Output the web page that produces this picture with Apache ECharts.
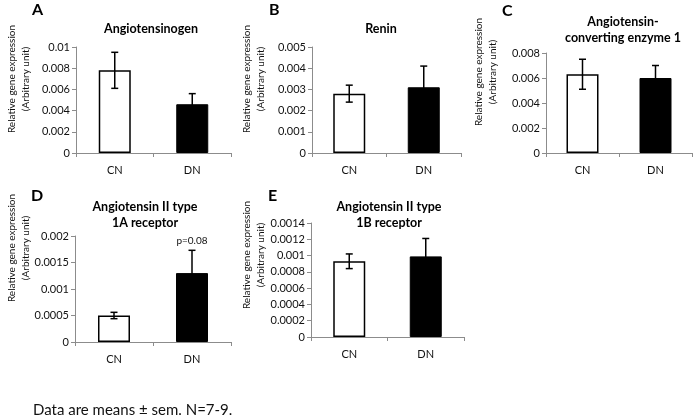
<!DOCTYPE html>
<html>
<head>
<meta charset="utf-8">
<script src="https://cdn.jsdelivr.net/npm/echarts@6/dist/echarts.min.js"></script>
<style>
  html, body { margin: 0; padding: 0; background: #fff; }
  #chart { width: 696px; height: 420px; }
</style>
</head>
<body>
<div id="chart"></div>
<script>
// ---- data ----
const categories = ['CN', 'DN'];

const angiotensinogenMean = [0.0078, 0.0046];
const angiotensinogenSem  = [0.0017, 0.0010];

const reninMean = [0.0028, 0.0031];
const reninSem  = [0.0004, 0.0010];

const aceMean = [0.0063, 0.0060];
const aceSem  = [0.0012, 0.0010];

const at1aMean = [0.00050, 0.00130];
const at1aSem  = [0.00006, 0.00043];

const at1bMean = [0.00093, 0.00099];
const at1bSem  = [0.00009, 0.00022];

const panelLetters = ['A', 'B', 'C', 'D', 'E'];
const panelTitles = [
  'Angiotensinogen',
  'Renin',
  'Angiotensin-\nconverting enzyme 1',
  'Angiotensin II type\n1A receptor',
  'Angiotensin II type\n1B receptor'
];
const yMax      = [0.01, 0.005, 0.008, 0.002, 0.0014];
const yInterval = [0.002, 0.001, 0.002, 0.0005, 0.0002];
const yAxisTitle = 'Relative gene expression\n(Arbitrary unit)';
const annotationText = 'p=0.08';
const footnote = 'Data are means \u00b1 sem. N=7-9.';

// ---- layout ----
const FONT = 'Lato, "Open Sans", sans-serif';
const grids = [
  { left: 76,  top: 47,  width: 155, height: 106 },
  { left: 312, top: 47,  width: 149, height: 106 },
  { left: 546, top: 53,  width: 146, height: 100 },
  { left: 75,  top: 236, width: 156, height: 106 },
  { left: 311, top: 223, width: 153, height: 114 }
];
const letterPos = [[32, 11], [269, 11], [502, 12], [31, 197], [268, 197]];
const titlePos = [[151, 29], [381, 29], [623, 30], [145, 215], [389, 215]];
const yNamePos = [[19, 79], [254, 79], [486, 72], [19, 248], [254, 255]];

const means = [angiotensinogenMean, reninMean, aceMean, at1aMean, at1bMean];
const sems  = [angiotensinogenSem, reninSem, aceSem, at1aSem, at1bSem];

const axisGray = '#8c8c8c';
const xAxes = [], yAxes = [], series = [], graphics = [];

grids.forEach((g, i) => {
  xAxes.push({
    type: 'category', gridIndex: i, data: categories,
    axisLine: { lineStyle: { color: axisGray, width: 1 } },
    axisTick: { show: true, alignWithLabel: false, length: 4, lineStyle: { color: axisGray } },
    axisLabel: { color: '#111', fontFamily: FONT, fontSize: 11, margin: 12 }
  });
  yAxes.push({
    type: 'value', gridIndex: i, min: 0, max: yMax[i], interval: yInterval[i],
    axisLine: { show: true, lineStyle: { color: axisGray, width: 1 } },
    axisTick: { show: true, length: 4, lineStyle: { color: axisGray } },
    splitLine: { show: false },
    axisLabel: {
      color: '#111', fontFamily: FONT, fontSize: 11, margin: 6,
      formatter: v => String(+v.toPrecision(6))
    }
  });
  series.push({
    type: 'bar', xAxisIndex: i, yAxisIndex: i, barWidth: 32,
    data: means[i].map((m, k) => ({
      value: m,
      itemStyle: k === 0
        ? { color: '#fff', borderColor: '#000', borderWidth: 1.5 }
        : { color: '#000', borderColor: '#000', borderWidth: 1 }
    })),
    z: 2
  });
  series.push({
    type: 'custom', xAxisIndex: i, yAxisIndex: i, z: 3,
    data: means[i].map((m, k) => [k, m, sems[i][k], (i === 3 && k === 1) ? 1 : 0]),
    encode: { x: 0, y: 1 },
    renderItem: (params, api) => {
      const x = api.value(0), m = api.value(1), s = api.value(2);
      const hi = api.coord([x, m + s]);
      const lo = api.coord([x, m - s]);
      const w = 7;
      const st = { stroke: '#000', lineWidth: 1.5 };
      const children = [
        { type: 'line', shape: { x1: hi[0], y1: hi[1], x2: lo[0], y2: lo[1] }, style: st },
        { type: 'line', shape: { x1: hi[0] - w / 2, y1: hi[1], x2: hi[0] + w / 2, y2: hi[1] }, style: st },
        { type: 'line', shape: { x1: lo[0] - w / 2, y1: lo[1], x2: lo[0] + w / 2, y2: lo[1] }, style: st }
      ];
      if (api.value(3) === 1) {
        children.push({
          type: 'text', x: hi[0], y: hi[1] - 10,
          style: { text: annotationText, fill: '#111', font: '10px ' + FONT, align: 'center', verticalAlign: 'middle' }
        });
      }
      return { type: 'group', children };
    }
  });

  graphics.push({
    type: 'text', left: letterPos[i][0], top: letterPos[i][1] - 9,
    style: { text: panelLetters[i], fill: '#000', font: 'bold 16px ' + FONT }
  });
  graphics.push({
    type: 'text', x: titlePos[i][0], y: titlePos[i][1],
    style: { text: panelTitles[i], fill: '#000', font: 'bold 12.5px ' + FONT, align: 'center', verticalAlign: 'middle', lineHeight: 16 }
  });
  graphics.push({
    type: 'text', x: yNamePos[i][0], y: yNamePos[i][1], rotation: Math.PI / 2,
    style: { text: yAxisTitle, fill: '#111', font: '10px ' + FONT, align: 'center', verticalAlign: 'middle', lineHeight: 14 }
  });
});

graphics.push({
  type: 'text', left: 33, top: 403,
  style: { text: footnote, fill: '#111', font: '15px ' + FONT }
});

const chart = echarts.init(document.getElementById('chart'), null, { renderer: 'canvas' });
chart.setOption({
  animation: false,
  backgroundColor: '#fff',
  grid: grids,
  xAxis: xAxes,
  yAxis: yAxes,
  series: series,
  graphic: graphics
});
</script>
</body>
</html>
